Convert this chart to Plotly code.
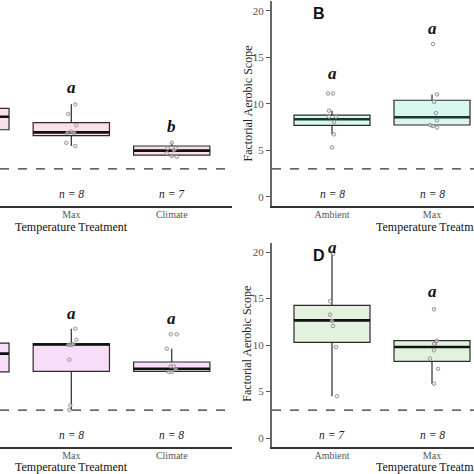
import plotly.graph_objects as go

categories = ["Ambient", "Max", "Climate"]

# Box statistics per panel: [Ambient, Max, Climate]
A_q1 = [7.2, 6.56, 4.48]
A_med = [8.6, 6.92, 4.95]
A_q3 = [9.5, 7.96, 5.45]
A_lo = [5.8, 5.45, 4.3]
A_hi = [11.0, 9.93, 5.8]

B_q1 = [7.68, 7.71]
B_med = [8.32, 8.54]
B_q3 = [8.78, 10.37]
B_lo = [6.7, 7.45]
B_hi = [9.25, 11.0]

C_q1 = [7.1, 7.17, 7.17]
C_med = [9.07, 10.05, 7.45]
C_q3 = [10.2, 10.14, 8.17]
C_lo = [5.0, 2.98, 7.1]
C_hi = [12.0, 11.75, 9.6]

D_q1 = [10.29, 8.24]
D_med = [12.65, 9.78]
D_q3 = [14.27, 10.46]
D_lo = [4.48, 5.84]
D_hi = [19.8, 10.46]

# Individual observations
A_max_pts = [9.93, 8.89, 7.68, 6.85, 6.85, 7.0, 5.8, 5.45]
A_max_jit = [0.04, -0.03, 0.05, -0.04, 0.03, 0.0, -0.05, 0.04]
A_cli_pts = [5.8, 5.2, 5.2, 4.67, 4.38, 4.3, 5.0]
A_cli_jit = [0.0, 0.04, -0.04, -0.05, 0.0, 0.05, 0.02]

B_amb_pts = [11.1, 11.1, 9.25, 8.6, 8.6, 8.0, 6.7, 5.3]
B_amb_jit = [-0.04, 0.01, -0.03, -0.03, 0.04, 0.02, 0.02, 0.0]
B_max_pts = [16.4, 11.0, 10.2, 9.0, 8.2, 7.7, 7.6, 7.45]
B_max_jit = [0.01, 0.05, 0.02, 0.04, 0.05, -0.02, 0.01, 0.05]

C_max_pts = [11.75, 10.57, 10.0, 10.0, 10.1, 8.42, 3.5, 3.0]
C_max_jit = [0.04, 0.05, -0.03, 0.0, 0.02, -0.02, -0.01, -0.02]
C_cli_pts = [11.15, 11.15, 9.6, 7.7, 7.7, 7.1, 7.1, 7.4]
C_cli_jit = [-0.01, 0.05, -0.05, -0.01, 0.02, -0.03, 0.0, 0.04]

D_amb_pts = [19.8, 14.7, 13.26, 12.04, 12.6, 9.78, 4.48]
D_amb_jit = [0.01, -0.02, -0.02, 0.01, 0.0, 0.04, 0.05]
D_max_pts = [13.84, 10.46, 10.14, 10.1, 9.43, 8.53, 7.45, 5.84]
D_max_jit = [0.02, 0.05, 0.03, 0.02, 0.02, -0.02, 0.06, 0.02]

# Significance letters and sample sizes
A_letters = [("Max", "a", 11.7), ("Climate", "b", 7.5)]
B_letters = [("Ambient", "a", 13.3), ("Max", "a", 18.1)]
C_letters = [("Max", "a", 13.4), ("Climate", "a", 12.8)]
D_letters = [("Ambient", "a", 20.5), ("Max", "a", 15.7)]
A_n = [("Max", 8), ("Climate", 7)]
B_n = [("Ambient", 8), ("Max", 8)]
C_n = [("Max", 8), ("Climate", 8)]
D_n = [("Ambient", 7), ("Max", 8)]

threshold = 3
SERIF = "Liberation Serif"
pos = {c: i + 1 for i, c in enumerate(categories)}

fig = go.Figure()

panels = [
    dict(ax="", q=(A_q1, A_med, A_q3, A_lo, A_hi), cats=categories, fill="#fbe1e7",
         pts=[("Max", A_max_pts, A_max_jit), ("Climate", A_cli_pts, A_cli_jit)],
         letters=A_letters, n=A_n, medcol="#111111"),
    dict(ax="2", q=(B_q1, B_med, B_q3, B_lo, B_hi), cats=categories[:2], fill="#d8f7f1",
         pts=[("Ambient", B_amb_pts, B_amb_jit), ("Max", B_max_pts, B_max_jit)],
         letters=B_letters, n=B_n, medcol="#17382c"),
    dict(ax="3", q=(C_q1, C_med, C_q3, C_lo, C_hi), cats=categories, fill="#f9dcf8",
         pts=[("Max", C_max_pts, C_max_jit), ("Climate", C_cli_pts, C_cli_jit)],
         letters=C_letters, n=C_n, medcol="#111111"),
    dict(ax="4", q=(D_q1, D_med, D_q3, D_lo, D_hi), cats=categories[:2], fill="#e2f2df",
         pts=[("Ambient", D_amb_pts, D_amb_jit), ("Max", D_max_pts, D_max_jit)],
         letters=D_letters, n=D_n, medcol="#111111"),
]

BW = 0.76
for p in panels:
    xa, ya = "x" + p["ax"], "y" + p["ax"]
    q1, med, q3, lo, hi = p["q"]
    xs = [pos[c] for c in p["cats"]]
    fig.add_trace(go.Box(
        x=xs, q1=q1, median=med, q3=q3, lowerfence=lo, upperfence=hi,
        width=BW, whiskerwidth=0, fillcolor=p["fill"],
        line=dict(color="#2b2b2b", width=1.2), boxpoints=False,
        xaxis=xa, yaxis=ya, showlegend=False, hoverinfo="skip"))
    for x, m in zip(xs, med):
        fig.add_trace(go.Scatter(
            x=[x - BW / 2, x + BW / 2], y=[m, m], mode="lines",
            line=dict(color=p["medcol"], width=2.6),
            xaxis=xa, yaxis=ya, showlegend=False, hoverinfo="skip"))
    for c, vals, jit in p["pts"]:
        fig.add_trace(go.Scatter(
            x=[pos[c] + j for j in jit], y=vals, mode="markers",
            marker=dict(size=3.5, color="rgba(235,235,235,0.6)",
                        line=dict(color="#8a8a8a", width=0.9)),
            xaxis=xa, yaxis=ya, showlegend=False, hoverinfo="skip"))
    for c, t, yv in p["letters"]:
        fig.add_annotation(x=pos[c], y=yv, xref=xa, yref=ya, text=f"<b><i>{t}</i></b>",
                           showarrow=False, font=dict(family=SERIF, size=17, color="#111"))
    for c, nv in p["n"]:
        fig.add_annotation(x=pos[c], y=0.3, xref=xa, yref=ya, text=f"<i>n = {nv}</i>",
                           showarrow=False, font=dict(family=SERIF, size=11.5, color="#222"))
    fig.add_shape(type="line", xref=xa + " domain", yref=ya, x0=0, x1=1,
                  y0=threshold, y1=threshold,
                  line=dict(color="#333333", width=1.3, dash="dash"))

W = 474.0
top_dom = [1 - 206 / W, 1 - 1.4 / W]
bot_dom = [1 - 447.3 / W, 1 - 242.7 / W]
left_dom = [0, 232 / W]
right_dom = [272 / W, 1]
left_rng = [1.29, 3.6]
right_rng = [0.4, 0.4 + (W - 272) / 100]

xcommon = dict(tickvals=[1, 2, 3], ticktext=categories, showgrid=False, zeroline=False,
               showline=True, linecolor="#333333", linewidth=1.5, ticks="",
               ticklabelstandoff=-2, tickfont=dict(family=SERIF, size=10, color="#555"))
ycommon = dict(range=[-1, 21], showgrid=False, zeroline=False,
               tickvals=[0, 5, 10, 15, 20], ticks="outside", ticklen=4, tickcolor="#555",
               tickfont=dict(family=SERIF, size=11, color="#555"))

fig.update_layout(
    width=474, height=474, margin=dict(l=0, r=0, t=0, b=0),
    plot_bgcolor="white", paper_bgcolor="white",
    xaxis=dict(domain=left_dom, range=left_rng, anchor="y", **xcommon),
    yaxis=dict(domain=top_dom, anchor="x", visible=False, **ycommon),
    xaxis2=dict(domain=right_dom, range=right_rng, anchor="y2", **xcommon),
    yaxis2=dict(domain=top_dom, anchor="x2", showline=True, linecolor="#666", linewidth=2, **ycommon),
    xaxis3=dict(domain=left_dom, range=left_rng, anchor="y3", **xcommon),
    yaxis3=dict(domain=bot_dom, anchor="x3", visible=False, **ycommon),
    xaxis4=dict(domain=right_dom, range=right_rng, anchor="y4", **xcommon),
    yaxis4=dict(domain=bot_dom, anchor="x4", showline=True, linecolor="#666", linewidth=2, **ycommon),
)

# axis titles
for xa, py in [("x", 227), ("x2", 227), ("x3", 467), ("x4", 467)]:
    fig.add_annotation(x=2, y=1 - py / W, xref=xa, yref="paper", text="Temperature Treatment",
                       showarrow=False, xanchor="center", yanchor="middle",
                       font=dict(family=SERIF, size=12, color="#111"))
for py in [103.5, 343.7]:
    fig.add_annotation(x=247 / W, y=1 - py / W, xref="paper", yref="paper",
                       text="Factorial Aerobic Scope", textangle=-90, showarrow=False,
                       xanchor="center", yanchor="middle",
                       font=dict(family=SERIF, size=12, color="#222"))
for lab, py in [("B", 14), ("D", 255)]:
    fig.add_annotation(x=319 / W, y=1 - py / W, xref="paper", yref="paper",
                       text=f"<b>{lab}</b>", showarrow=False, xanchor="center", yanchor="middle",
                       font=dict(family="Liberation Sans", size=16, color="#111"))

fig.write_html("out.html", config={"displayModeBar": False},
               post_script="document.body.style.margin='0';document.body.style.overflow='hidden';")
